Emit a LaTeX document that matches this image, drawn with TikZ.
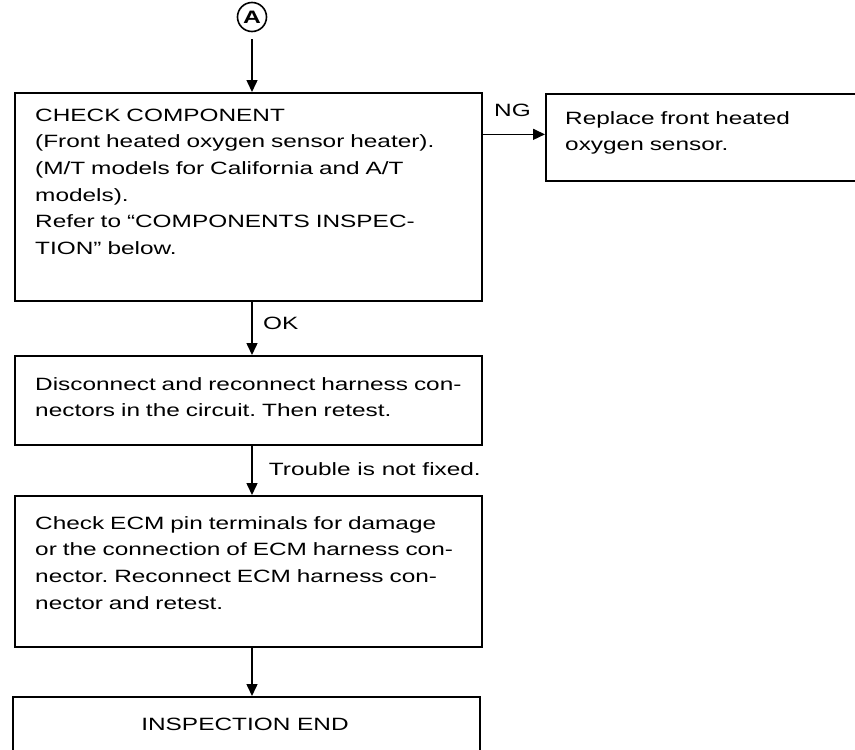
\documentclass[tikz,border=0pt]{standalone}
\usepackage{fontspec}
\setmainfont{Liberation Sans}[FakeStretch=1.37]
\usetikzlibrary{arrows.meta,positioning,calc}
\frenchspacing

\begin{document}
\begin{tikzpicture}[x=1pt,y=-1pt,
    box/.style={draw, line width=1.7pt, anchor=north west, inner sep=0pt},
    txt/.style={anchor=base west, align=left, inner sep=0pt, text width=440pt,
      font=\fontsize{17.8}{26.7}\selectfont},
    lbl/.style={inner sep=0pt, font=\fontsize{17.8}{21}\selectfont},
    flow/.style={line width=1.5pt, -{Triangle[length=12pt,width=11pt]}}]
  \clip (0,0) rectangle (855,750);
  % connector mark
  \node[circle, draw, line width=1.6pt, minimum size=29pt, inner sep=0pt,
    font=\fontsize{18}{18}\selectfont\bfseries] (a) at (252,17) {A};
  % boxes
  \node[box, minimum width=467pt, minimum height=208pt] (chk) at (14,92) {};
  \node[box, minimum width=400pt, minimum height=87pt] (rep) at (545,93) {};
  \node[box, minimum width=467pt, minimum height=89pt] (dis) at (14,355) {};
  \node[box, minimum width=467pt, minimum height=151pt] (ecm) at (14,495) {};
  \node[box, minimum width=467pt, minimum height=100pt] (fin) at (12,696) {};
  % texts
  \node[txt] (chkt) at (35,121) {CHECK COMPONENT\\
    (Front heated oxygen sensor heater).\\
    (M/T models for California and A/T\\
    models).\\
    Refer to “COMPONENTS INSPEC-\\
    TION” below.};
  \node[txt, text width=280pt] (rept) at (565,124) {Replace front heated\\
    oxygen sensor.};
  \node[txt] (dist) at (35,390) {Disconnect and reconnect harness con-\\
    nectors in the circuit. Then retest.};
  \node[txt] (ecmt) at (35,529) {Check ECM pin terminals for damage\\
    or the connection of ECM harness con-\\
    nector. Reconnect ECM harness con-\\
    nector and retest.};
  \node[lbl, anchor=base] (fint) at (245,730) {INSPECTION END};
  % connectors
  \draw[flow, shorten <=7pt] (a) -- (a |- chk.north);
  \draw[flow] ([yshift=3pt]chk.east |- rep.west) -- ([yshift=3pt]rep.west);
  \node[lbl, anchor=base west] (ng) at (494,116) {NG};
  \draw[flow] (a |- chk.south) -- (a |- dis.north);
  \node[lbl, anchor=base west] (ok) at (263,329) {OK};
  \draw[flow] (a |- dis.south) -- (a |- ecm.north);
  \node[lbl, anchor=base east] (nfx) at (481,475) {Trouble is not fixed.};
  \draw[flow] (a |- ecm.south) -- (a |- fin.north);
\end{tikzpicture}
\end{document}
